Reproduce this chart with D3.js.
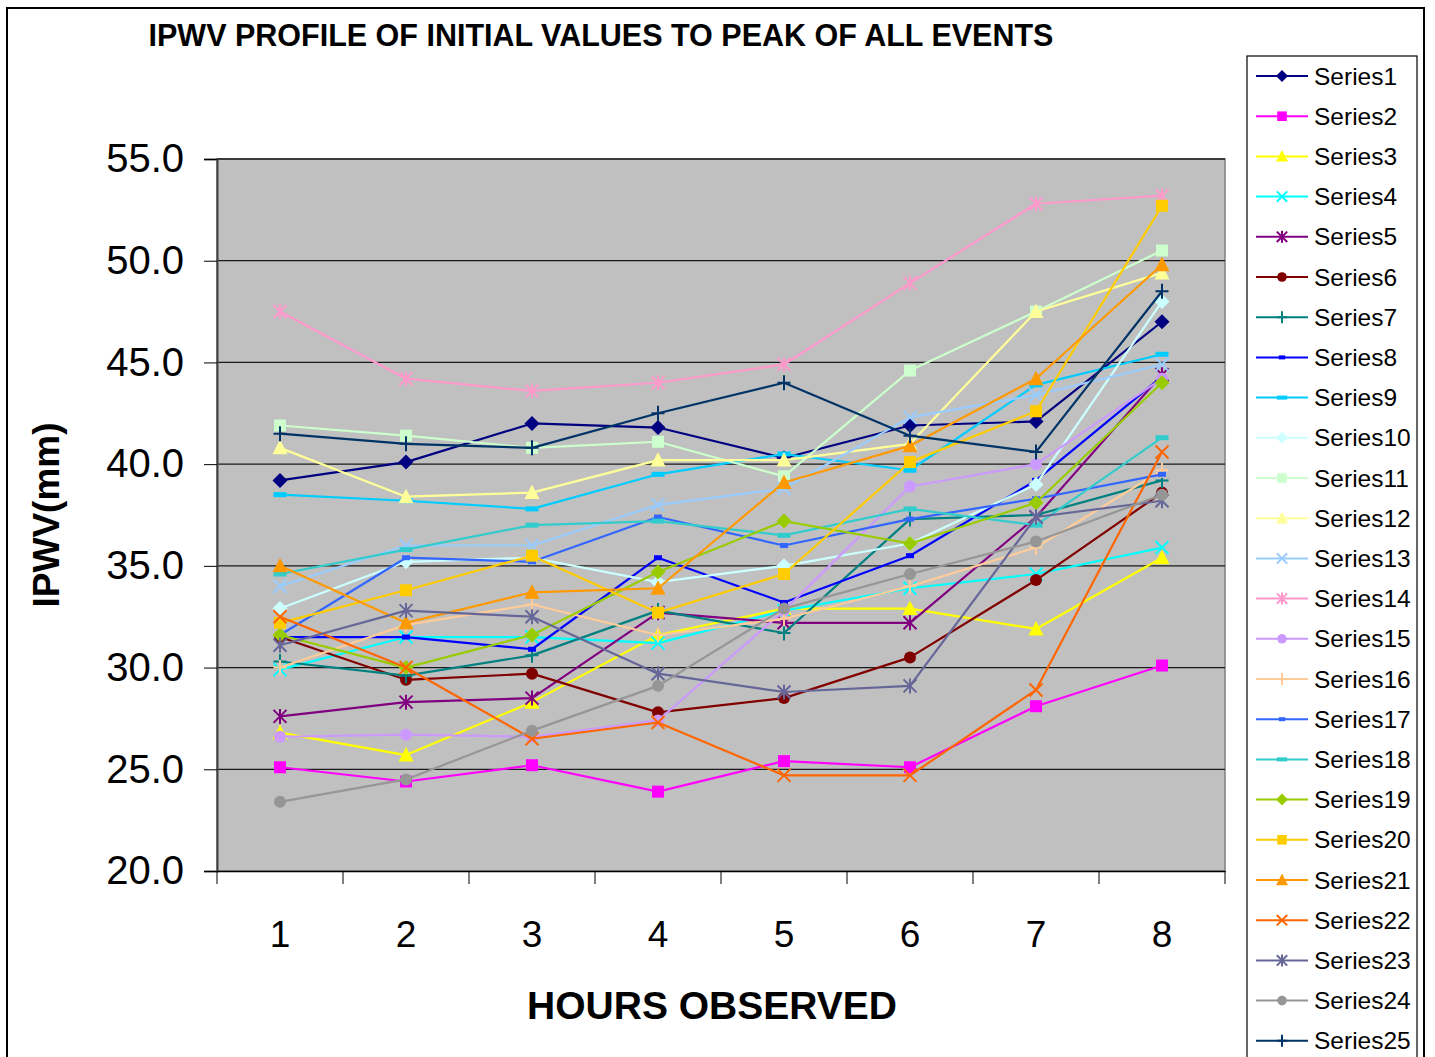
<!DOCTYPE html>
<html>
<head>
<meta charset="utf-8">
<script src="https://cdn.jsdelivr.net/npm/d3@7"></script>
<style>
  body { margin: 0; background: #ffffff; }
  svg { display: block; font-family: "Liberation Sans", Arial, sans-serif; }
</style>
</head>
<body>
<svg id="chart" width="1435" height="1057"></svg>
<script>
// Hours on the x axis and value ticks on the y axis
const hours = [1, 2, 3, 4, 5, 6, 7, 8];
const yTicks = [20, 25, 30, 35, 40, 45, 50, 55];

// IPWV (mm) per event, hour 1 .. hour 8
const series1  = [39.2, 40.1, 42.0, 41.8, 40.3, 41.9, 42.1, 47.0];
const series2  = [25.1, 24.4, 25.2, 23.9, 25.4, 25.1, 28.1, 30.1];
const series3  = [26.8, 25.7, 28.3, 31.6, 32.9, 32.9, 31.9, 35.4];
const series4  = [29.9, 31.5, 31.5, 31.2, 32.8, 33.9, 34.6, 35.9];
const series5  = [27.6, 28.3, 28.5, 32.7, 32.2, 32.2, 37.4, 44.4];
const series6  = [31.5, 29.4, 29.7, 27.8, 28.5, 30.5, 34.3, 38.6];
const series7  = [30.3, 29.6, 30.6, 32.8, 31.7, 37.3, 37.5, 39.2];
const series8  = [31.5, 31.5, 30.9, 35.4, 33.2, 35.5, 39.2, 44.3];
const series9  = [38.5, 38.2, 37.8, 39.5, 40.5, 39.7, 43.9, 45.4];
const series10 = [32.9, 35.2, 35.4, 34.2, 35.0, 36.1, 39.0, 48.0];
const series11 = [41.9, 41.4, 40.8, 41.1, 39.4, 44.6, 47.5, 50.5];
const series12 = [40.8, 38.4, 38.6, 40.2, 40.2, 41.0, 47.5, 49.4];
const series13 = [34.0, 36.0, 36.0, 38.0, 38.8, 42.3, 43.4, 44.9];
const series14 = [47.5, 44.2, 43.6, 44.0, 44.9, 48.9, 52.8, 53.2];
const series15 = [26.6, 26.7, 26.6, 27.4, 32.8, 38.9, 40.0, 44.2];
const series16 = [30.0, 32.1, 33.1, 31.6, 32.4, 34.0, 35.9, 39.7];
const series17 = [31.6, 35.4, 35.2, 37.4, 36.0, 37.3, 38.3, 39.5];
const series18 = [34.6, 35.8, 37.0, 37.2, 36.5, 37.8, 37.0, 41.3];
const series19 = [31.6, 30.0, 31.6, 34.7, 37.2, 36.1, 38.1, 44.0];
const series20 = [32.2, 33.8, 35.5, 32.7, 34.6, 40.1, 42.6, 52.7];
const series21 = [35.0, 32.2, 33.7, 33.9, 39.1, 40.9, 44.2, 49.8];
const series22 = [32.5, 30.0, 26.5, 27.3, 24.7, 24.7, 28.9, 40.6];
const series23 = [31.1, 32.8, 32.5, 29.7, 28.8, 29.1, 37.4, 38.2];
const series24 = [23.4, 24.5, 26.9, 29.1, 32.9, 34.6, 36.2, 38.5];
const series25 = [41.5, 41.0, 40.8, 42.5, 44.0, 41.4, 40.6, 48.5];

const seriesNames = [
  "Series1", "Series2", "Series3", "Series4", "Series5", "Series6", "Series7",
  "Series8", "Series9", "Series10", "Series11", "Series12", "Series13",
  "Series14", "Series15", "Series16", "Series17", "Series18", "Series19",
  "Series20", "Series21", "Series22", "Series23", "Series24", "Series25"
];
const seriesValues = [
  series1, series2, series3, series4, series5, series6, series7, series8,
  series9, series10, series11, series12, series13, series14, series15,
  series16, series17, series18, series19, series20, series21, series22,
  series23, series24, series25
];

// Line colour and marker shape for each series
const seriesColors = [
  "#000080", "#FF00FF", "#FFFF00", "#00FFFF", "#800080", "#800000", "#008080",
  "#0000FF", "#00CCFF", "#CCFFFF", "#CCFFCC", "#FFFF99", "#99CCFF", "#FF99CC",
  "#CC99FF", "#FFCC99", "#3366FF", "#33CCCC", "#99CC00", "#FFCC00", "#FF9900",
  "#FF6600", "#666699", "#969696", "#003366"
];
const seriesMarkers = [
  "diamond", "square", "triangle", "x", "star", "circle", "plus", "dash",
  "longdash", "diamond", "square", "triangle", "x", "star", "circle", "plus",
  "dash", "longdash", "diamond", "square", "triangle", "x", "star", "circle", "plus"
];

const svg = d3.select("#chart");

// Frame around the whole chart
svg.append("rect")
  .attr("x", 7).attr("y", 8).attr("width", 1417).attr("height", 1060)
  .attr("fill", "#fff").attr("stroke", "#000").attr("stroke-width", 2);

const plot = { left: 217, right: 1225, top: 159, bottom: 871 };

const x = d3.scaleBand().domain(hours).range([plot.left, plot.right]);
const y = d3.scaleLinear().domain([20, 55]).range([plot.bottom, plot.top]);
const cx = d => x(d) + x.bandwidth() / 2;

// Plot area
svg.append("rect")
  .attr("x", plot.left).attr("y", plot.top)
  .attr("width", plot.right - plot.left).attr("height", plot.bottom - plot.top)
  .attr("fill", "#C0C0C0").attr("stroke", "#808080").attr("stroke-width", 1.5);

// Horizontal gridlines
svg.append("g")
  .selectAll("line")
  .data(yTicks.filter(t => t > 20))
  .join("line")
  .attr("x1", plot.left).attr("x2", plot.right)
  .attr("y1", d => y(d)).attr("y2", d => y(d))
  .attr("stroke", "#1a1a1a").attr("stroke-width", 1.3);

// Y axis
const yAxis = svg.append("g")
  .attr("transform", `translate(${plot.left},0)`)
  .call(d3.axisLeft(y).tickValues(yTicks).tickFormat(d3.format(".1f")).tickSize(13).tickPadding(20));
yAxis.select(".domain").attr("stroke", "#404040").attr("stroke-width", 2);
yAxis.selectAll(".tick line").attr("stroke", "#000").attr("stroke-width", 1);
yAxis.selectAll(".tick text")
  .attr("font-size", 40).attr("fill", "#000")
  .attr("font-family", "'Liberation Sans', Arial, sans-serif");

// X axis: labels centred in each hour band, ticks on the band edges
const xAxis = svg.append("g")
  .attr("transform", `translate(0,${plot.bottom})`)
  .call(d3.axisBottom(x).tickSize(0).tickPadding(50));
xAxis.select(".domain").attr("stroke", "#000").attr("stroke-width", 1.5);
xAxis.selectAll(".tick text")
  .attr("font-size", 37).attr("fill", "#000")
  .attr("font-family", "'Liberation Sans', Arial, sans-serif");

const edges = hours.map(h => x(h)).concat([x(hours[hours.length - 1]) + x.bandwidth()]);
svg.append("g")
  .selectAll("line")
  .data(edges)
  .join("line")
  .attr("x1", d => d).attr("x2", d => d)
  .attr("y1", plot.bottom).attr("y2", plot.bottom + 13)
  .attr("stroke", "#000").attr("stroke-width", 1);

// Marker drawing
function drawMarker(g, kind, color, k) {
  switch (kind) {
    case "diamond":
      g.append("path").attr("d", `M0,${-7.5*k}L${7.5*k},0L0,${7.5*k}L${-7.5*k},0Z`).attr("fill", color);
      break;
    case "square":
      g.append("rect").attr("x", -6*k).attr("y", -6*k).attr("width", 12*k).attr("height", 12*k).attr("fill", color);
      break;
    case "triangle":
      g.append("path").attr("d", `M0,${-8*k}L${7.5*k},${6.5*k}L${-7.5*k},${6.5*k}Z`).attr("fill", color);
      break;
    case "x":
      g.append("path").attr("d", `M${-6.5*k},${-6.5*k}L${6.5*k},${6.5*k}M${-6.5*k},${6.5*k}L${6.5*k},${-6.5*k}`)
        .attr("stroke", color).attr("stroke-width", 2).attr("fill", "none");
      break;
    case "star":
      g.append("path").attr("d", `M${-6.5*k},${-6.5*k}L${6.5*k},${6.5*k}M${-6.5*k},${6.5*k}L${6.5*k},${-6.5*k}M0,${-7.5*k}L0,${7.5*k}`)
        .attr("stroke", color).attr("stroke-width", 2).attr("fill", "none");
      break;
    case "circle":
      g.append("circle").attr("r", 6*k).attr("fill", color);
      break;
    case "plus":
      g.append("path").attr("d", `M${-6.5*k},0L${6.5*k},0M0,${-7.5*k}L0,${7.5*k}`)
        .attr("stroke", color).attr("stroke-width", 2).attr("fill", "none");
      break;
    case "dash":
      g.append("rect").attr("x", -4*k).attr("y", -2.5*k).attr("width", 8*k).attr("height", 5*k).attr("fill", color);
      break;
    case "longdash":
      g.append("rect").attr("x", -6.5*k).attr("y", -2.5*k).attr("width", 13*k).attr("height", 5*k).attr("fill", color);
      break;
  }
}

// Series lines and markers, first series underneath
const line = d3.line().x((d, i) => cx(hours[i])).y(d => y(d));
const seriesLayer = svg.append("g");
seriesValues.forEach((vals, si) => {
  const g = seriesLayer.append("g");
  g.append("path")
    .attr("d", line(vals))
    .attr("fill", "none")
    .attr("stroke", seriesColors[si])
    .attr("stroke-width", 2.2)
    .attr("stroke-linejoin", "round");
  vals.forEach((v, i) => {
    const mg = g.append("g").attr("transform", `translate(${cx(hours[i])},${y(v)})`);
    drawMarker(mg, seriesMarkers[si], seriesColors[si], 1);
  });
});

// Title and axis titles
svg.append("text")
  .attr("x", 601).attr("y", 46)
  .attr("text-anchor", "middle")
  .attr("font-size", 30.5).attr("font-weight", "bold")
  .text("IPWV PROFILE OF INITIAL VALUES TO PEAK OF ALL EVENTS");

svg.append("text")
  .attr("x", 712).attr("y", 1019)
  .attr("text-anchor", "middle")
  .attr("font-size", 39).attr("font-weight", "bold")
  .text("HOURS OBSERVED");

svg.append("text")
  .attr("transform", "translate(59,515) rotate(-90)")
  .attr("text-anchor", "middle")
  .attr("font-size", 37).attr("font-weight", "bold")
  .text("IPWV(mm)");

// Legend
const legend = svg.append("g");
legend.append("rect")
  .attr("x", 1247).attr("y", 56).attr("width", 170).attr("height", 1020)
  .attr("fill", "#fff").attr("stroke", "#000").attr("stroke-width", 1.2);
const legendStep = 40.2;
seriesNames.forEach((name, si) => {
  const ly = 76 + si * legendStep;
  const row = legend.append("g").attr("transform", `translate(0,${ly})`);
  row.append("line")
    .attr("x1", 1256).attr("x2", 1308).attr("y1", 0).attr("y2", 0)
    .attr("stroke", seriesColors[si]).attr("stroke-width", 2);
  const mg = row.append("g").attr("transform", "translate(1282,0)");
  drawMarker(mg, seriesMarkers[si], seriesColors[si], 0.8);
  row.append("text")
    .attr("x", 1314).attr("y", 0).attr("dy", "0.35em")
    .attr("font-size", 24.5)
    .text(name);
});
</script>
</body>
</html>
